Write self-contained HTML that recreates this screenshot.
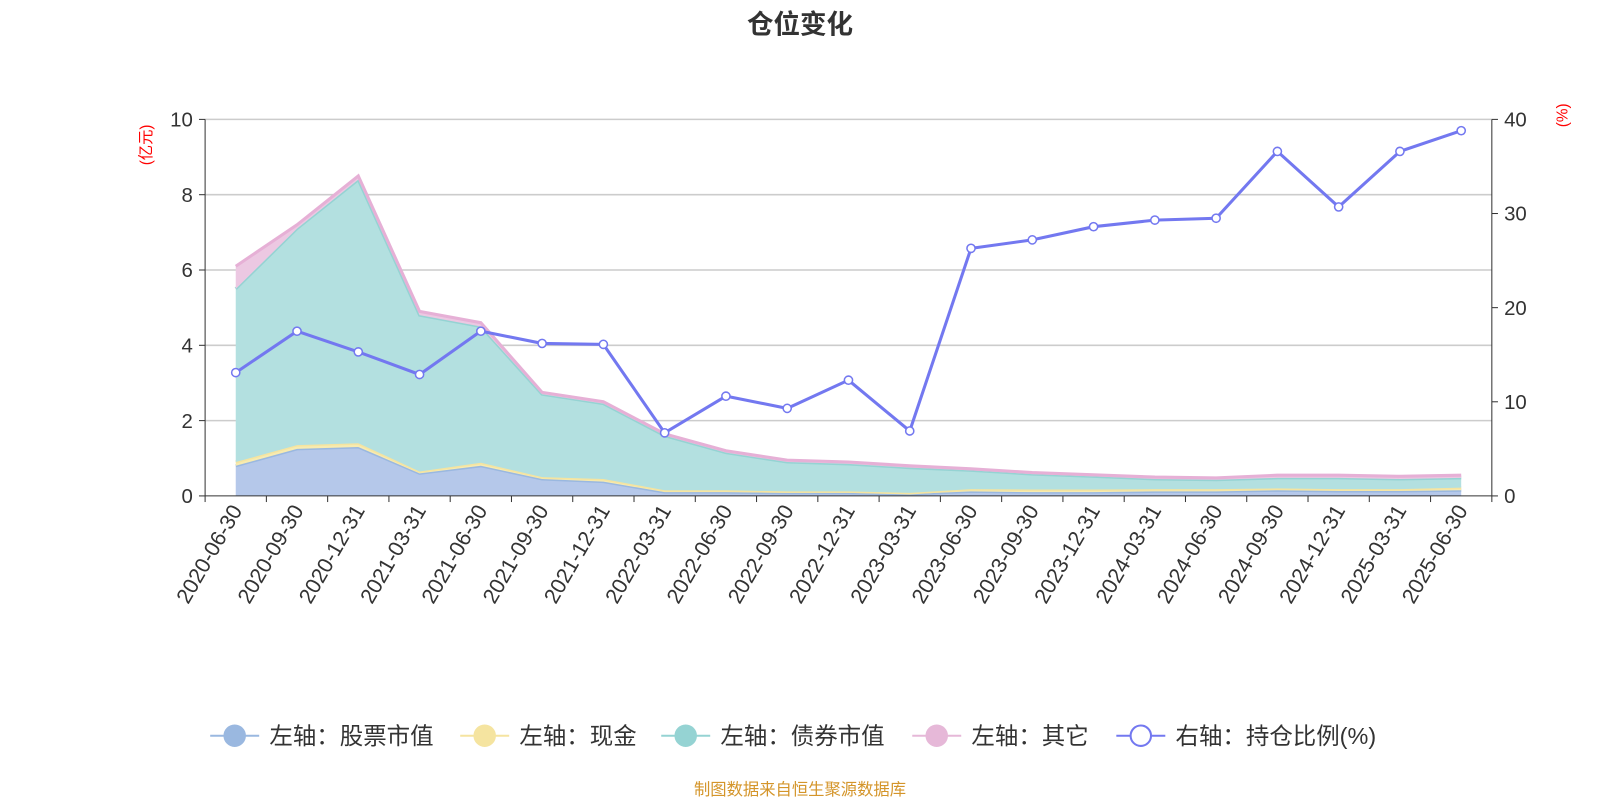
<!DOCTYPE html>
<html><head><meta charset="utf-8"><style>
html,body{margin:0;padding:0;background:#fff;}
svg{display:block;font-family:"Liberation Sans","Noto Sans CJK SC",sans-serif;}
</style></head><body>
<svg id="chart" width="1600" height="800" viewBox="0 0 1568 784" xmlns="http://www.w3.org/2000/svg">
<text x="784" y="33" text-anchor="middle" font-size="26" font-weight="bold" fill="#333">仓位变化</text>
<text transform="translate(148,142) rotate(-90)" text-anchor="middle" font-size="15" fill="red">(亿元)</text>
<text transform="translate(1536,113) rotate(-90)" text-anchor="middle" font-size="15" fill="red">(%)</text>
<g id="grid"></g><g id="areas"></g><g id="axes"></g><g id="ratio"></g><g id="legend"></g>
<text x="784" y="779" text-anchor="middle" font-size="16" fill="#d4952a">制图数据来自恒生聚源数据库</text>
</svg>
<script>
const categories=["2020-06-30","2020-09-30","2020-12-31","2021-03-31","2021-06-30","2021-09-30","2021-12-31","2022-03-31","2022-06-30","2022-09-30","2022-12-31","2023-03-31","2023-06-30","2023-09-30","2023-12-31","2024-03-31","2024-06-30","2024-09-30","2024-12-31","2025-03-31","2025-06-30"];
const stockValues=[0.8,1.25,1.3,0.6,0.8,0.45,0.38,0.1,0.1,0.08,0.08,0.05,0.12,0.1,0.1,0.12,0.12,0.15,0.13,0.13,0.15];
const cashValues=[0.1,0.1,0.1,0.05,0.08,0.05,0.07,0.05,0.05,0.04,0.04,0.03,0.06,0.07,0.07,0.06,0.06,0.05,0.05,0.05,0.07];
const bondValues=[4.6,5.75,7.0,4.15,3.62,2.2,2.0,1.45,1.0,0.78,0.73,0.67,0.5,0.41,0.35,0.27,0.25,0.28,0.3,0.27,0.26];
const otherValues=[0.6,0.1,0.1,0.1,0.1,0.05,0.05,0.05,0.05,0.05,0.05,0.05,0.04,0.04,0.04,0.05,0.05,0.07,0.07,0.07,0.07];
const ratioValues=[13.1,17.5,15.3,12.9,17.5,16.2,16.1,6.7,10.6,9.3,12.3,6.9,26.3,27.2,28.6,29.3,29.5,36.6,30.7,36.6,38.8];
const leftTicks=[0,2,4,6,8,10];
const rightTicks=[0,10,20,30,40];
const NS="http://www.w3.org/2000/svg";
const X0=201,X1=1462,Y0=486,Y1=117;
const band=(X1-X0)/categories.length;
const xPos=i=>X0+band*(i+0.5);
const yL=v=>Y0-(v/10)*(Y0-Y1);
const yR=v=>Y0-(v/40)*(Y0-Y1);
function mk(tag,attrs,parent){const e=document.createElementNS(NS,tag);for(const k in attrs)e.setAttribute(k,attrs[k]);parent.appendChild(e);return e;}
const grid=document.getElementById('grid'),axes=document.getElementById('axes'),areas=document.getElementById('areas'),ratio=document.getElementById('ratio'),legend=document.getElementById('legend');
leftTicks.forEach(t=>{
  if(t>0){const l=mk('line',{x1:X0,x2:X1,y1:yL(t),y2:yL(t),stroke:'#ccc','stroke-width':1.5},grid);
  
  }
  const tx=mk('text',{x:X0-12,y:yL(t)+7,'text-anchor':'end','font-size':20,fill:'#333'},axes);tx.textContent=t;
  
  
  mk('line',{x1:X0-6,x2:X0,y1:yL(t),y2:yL(t),stroke:'#333'},axes);
});
rightTicks.forEach(t=>{
  const tx=mk('text',{x:X1+12,y:yR(t)+7,'text-anchor':'start','font-size':20,fill:'#333'},axes);tx.textContent=t;
  
  
  mk('line',{x1:X1,x2:X1+6,y1:yR(t),y2:yR(t),stroke:'#333'},axes);
});
mk('line',{x1:X0,x2:X0,y1:Y1,y2:Y0,stroke:'#333'},axes);
mk('line',{x1:X1,x2:X1,y1:Y1,y2:Y0,stroke:'#333'},axes);
mk('line',{x1:X0,x2:X1,y1:Y0,y2:Y0,stroke:'#333'},axes);
for(let i=0;i<=categories.length;i++){mk('line',{x1:X0+band*i,x2:X0+band*i,y1:Y0,y2:Y0+6,stroke:'#333'},axes);}
categories.forEach((c,i)=>{
  const tx=mk('text',{transform:`translate(${xPos(i)+7},${Y0+14}) rotate(-60)`,'text-anchor':'end','font-size':21,fill:'#333'},axes);tx.textContent=c;
  
  
});
const series=[[stockValues,'#b5c8ea','#9ab8e0','stock-area'],[cashValues,'#f7ebb0','#f5e4a0','cash-area'],[bondValues,'#b3e0e0','#95d3d3','bond-area'],[otherValues,'#ecc8e2','#e6b0d6','other-area']];
let base=categories.map(()=>0);
series.forEach(([vals,fill,stroke,name])=>{
  const top=base.map((b,i)=>b+vals[i]);
  const up=top.map((v,i)=>`${xPos(i)},${yL(v)}`);
  const dn=base.map((v,i)=>`${xPos(i)},${yL(v)}`).reverse();
  const p=mk('polygon',{points:up.concat(dn).join(' '),fill:fill},areas);
  
  
  const l=mk('polyline',{points:up.join(' '),fill:'none',stroke:stroke,'stroke-width':3},areas);
  
  
  base=top;
});
const rl=mk('polyline',{points:ratioValues.map((v,i)=>`${xPos(i)},${yR(v)}`).join(' '),fill:'none',stroke:'#7378f0','stroke-width':3},ratio);


ratioValues.forEach((v,i)=>{
  const c=mk('circle',{cx:xPos(i),cy:yR(v),r:4,fill:'#fff',stroke:'#7378f0','stroke-width':1.5},ratio);
  
  
});
const legendItems=[[230,'左轴：股票市值','#9ab8e0','#9ab8e0'],[475,'左轴：现金','#f5e4a0','#f5e4a0'],[672,'左轴：债券市值','#95d3d3','#95d3d3'],[918,'左轴：其它','#e6b8d8','#e6b8d8'],[1118,'右轴：持仓比例(%)','#fff','#7378f0']];
legendItems.forEach(([x,label,fill,stroke])=>{
  const g=mk('g',{},legend);
  
  
  mk('line',{x1:x-24,x2:x+24,y1:721,y2:721,stroke:stroke,'stroke-width':2},g);
  mk('circle',{cx:x,cy:721,r:10,fill:fill,stroke:stroke,'stroke-width':2},g);
  const t=mk('text',{x:x+34,y:729,'font-size':23,fill:'#333'},g);t.textContent=label;
});
</script>
</body></html>
